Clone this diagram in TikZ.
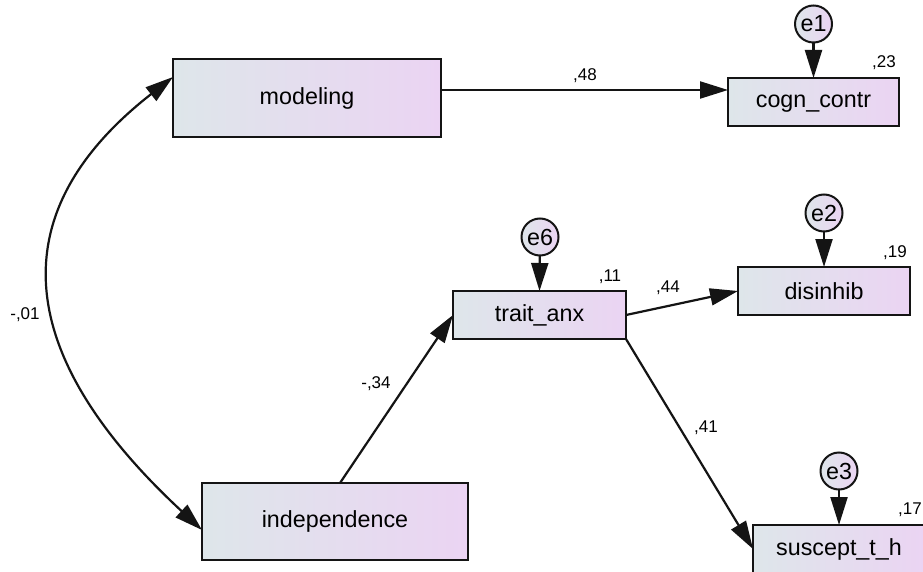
\documentclass[tikz,border=0pt]{standalone}
\usepackage{fontspec}
\setmainfont{Liberation Sans}
\usetikzlibrary{arrows.meta}
\definecolor{gleft}{RGB}{222,230,234}
\definecolor{gright}{RGB}{235,212,243}
\definecolor{edge}{RGB}{20,20,20}
\begin{document}
\begin{tikzpicture}[x=1pt,y=-1pt,
  box/.style={draw=edge,line width=2pt,left color=gleft,right color=gright,
    inner sep=0pt,outer sep=0pt,font=\fontsize{23.3}{28}\selectfont},
  errc/.style={circle,draw=edge,line width=2pt,left color=gleft,right color=gright,
    minimum size=37pt,inner sep=0pt,outer sep=0pt,font=\fontsize{23.3}{28}\selectfont},
  arr/.style={line width=2.2pt,draw=edge,-{Triangle[length=28pt,width=17pt]}},
  arrb/.style={line width=2.2pt,draw=edge,{Triangle[length=28pt,width=17pt]}-{Triangle[length=28pt,width=17pt]}},
  lab/.style={font=\fontsize{17}{20}\selectfont,inner sep=0pt}]
\useasboundingbox (0,0) rectangle (923,572);
\fill[white] (0,0) rectangle (923,572);

\node[box,minimum width=268pt,minimum height=78pt] (mod) at (307,98) {modeling};
\node[box,minimum width=266pt,minimum height=77pt] (ind) at (335,521.5) {independence};
\node[box,minimum width=171pt,minimum height=48pt] (cogn) at (813.5,102) {cogn\_contr};
\node[box,minimum width=172pt,minimum height=48pt] (dis) at (824,291) {disinhib};
\node[box,minimum width=173pt,minimum height=48pt] (ta) at (539.5,315) {trait\_anx};
\node[box,minimum width=172pt,minimum height=48pt] (sus) at (839,549) {suscept\_t\_h};

\node[errc] (e1) at (813.5,24) {e1};
\node[errc] (e2) at (824,213) {e2};
\node[errc] (e6) at (540,237) {e6};
\node[errc] (e3) at (839,471) {e3};

\draw[arr] (e1) -- (cogn.north);
\draw[arr] (e2) -- (dis.north);
\draw[arr] (e6) -- (ta.north);
\draw[arr] (e3) -- (sus.north);

\coordinate (m1) at ([yshift=8pt]mod.east);
\draw[arr] (m1) -- (m1 -| cogn.west);
\draw[arr] ([xshift=5pt]ind.north) -- (ta.west);
\draw[arr] (ta.east) -- (dis.west);
\draw[arr] (ta.south east) -- (sus.west);

\coordinate (c1) at ([yshift=21pt]mod.west);
\coordinate (c2) at ([yshift=-8.5pt]ind.west);
\draw[arrb] (c1) .. controls (-10,220) and (24,365) .. (c2);

\node[lab] (l48) at (585,76) {,48};
\node[lab] (l23) at (884,63) {,23};
\node[lab] (l19) at (895,253) {,19};
\node[lab] (l11) at (610,277) {,11};
\node[lab] (l44) at (668,288) {,44};
\node[lab] (l41) at (706,428) {,41};
\node[lab] (l34) at (376,384) {-,34};
\node[lab] (l01) at (25,315) {-,01};
\node[lab] (l17) at (910,510) {,17};
\end{tikzpicture}
\end{document}
